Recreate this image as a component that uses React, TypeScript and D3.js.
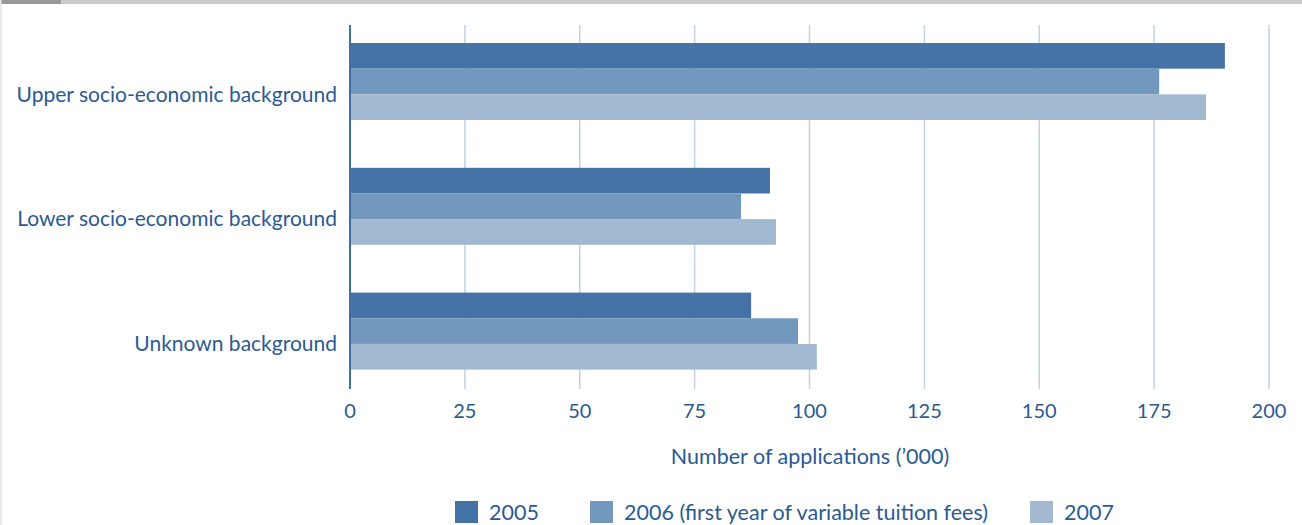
import React from "react";
import * as d3 from "d3";

const categories = ["Upper socio-economic background", "Lower socio-economic background", "Unknown background"];
const seriesNames = ["2005", "2006 (first year of variable tuition fees)", "2007"];
const values2005 = [190.4, 91.4, 87.3];
const values2006 = [176.1, 85.1, 97.5];
const values2007 = [186.3, 92.7, 101.6];
const xTicks = [0, 25, 50, 75, 100, 125, 150, 175, 200];
const axisTitle = "Number of applications (\u2019000)";

const colors = ["#4573a5", "#7398bd", "#a3b9d2"];
const textColor = "#2b5a92";
const font = "Lato, 'Open Sans', sans-serif";

export default function App() {
  const W = 1302, H = 525;
  const x = d3.scaleLinear().domain([0, 200]).range([350, 1269]);
  const y = d3.scaleBand<string>().domain(categories).range([19.1, 393.5]).paddingInner(0.383).paddingOuter(0.1915);
  const sub = d3.scaleBand<string>().domain(seriesNames).range([0, y.bandwidth()]);
  const series = [values2005, values2006, values2007];
  const legendX = [455, 590, 1030];

  return (
    <svg width={W} height={H} style={{ position: "absolute", left: 0, top: 0, background: "#fff" }} fontFamily={font}>
      <rect x={0} y={0} width={W} height={4} fill="#cccccc" />
      <rect x={0} y={0} width={61} height={4} fill="#999999" />
      <rect x={0} y={0} width={1.5} height={H} fill="#e6e6e6" />
      {xTicks.slice(1).map((t) => (
        <line key={t} x1={x(t)} x2={x(t)} y1={25} y2={389} stroke="#c3d2e3" strokeWidth={1.5} />
      ))}
      {series.map((vals, si) =>
        categories.map((c, ci) => (
          <rect
            key={si + "-" + ci}
            x={x(0)}
            y={(y(c) as number) + (sub(seriesNames[si]) as number)}
            width={x(vals[ci]) - x(0)}
            height={sub.bandwidth()}
            fill={colors[si]}
          />
        ))
      )}
      <line x1={x(0)} x2={x(0)} y1={25} y2={389} stroke="#3f6ea3" strokeWidth={2} />
      {categories.map((c) => (
        <text key={c} x={337} y={(y(c) as number) + y.bandwidth() / 2 + 20} textAnchor="end" fontSize={21} fill={textColor}>
          {c}
        </text>
      ))}
      {xTicks.map((t) => (
        <text key={t} x={x(t)} y={418} textAnchor="middle" fontSize={20} fill={textColor}>
          {t}
        </text>
      ))}
      <text x={810} y={464} textAnchor="middle" fontSize={21.5} fill={textColor}>
        {axisTitle}
      </text>
      {seriesNames.map((s, i) => (
        <g key={s}>
          <rect x={legendX[i]} y={501} width={23} height={22} fill={colors[i]} />
          <text x={legendX[i] + 34} y={520} fontSize={21.5} fill={textColor}>
            {s}
          </text>
        </g>
      ))}
    </svg>
  );
}
